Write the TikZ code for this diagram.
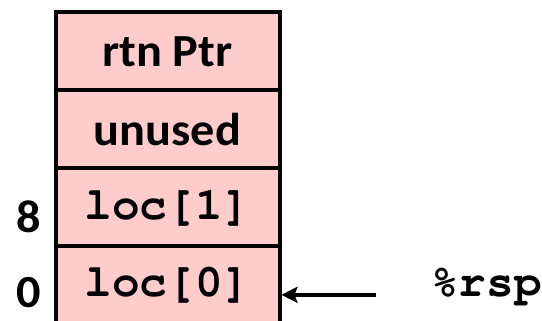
\documentclass[tikz,border=0pt]{standalone}
\usepackage[T1]{fontenc}
\usepackage{fontspec}
\newfontfamily\calfont[FakeStretch=1.05, Numbers=Lining]{Carlito}
\newcommand\courfont{\fontencoding{T1}\fontfamily{pcr}\selectfont}
\usetikzlibrary{arrows.meta, positioning}
\definecolor{stackpink}{HTML}{FFCCCC}
\tikzset{
  cell/.style={rectangle, draw, line width=4pt, fill=stackpink,
               minimum width=224pt, minimum height=77.8pt,
               outer sep=0pt, inner sep=0pt},
  sans/.style={font=\calfont\bfseries\fontsize{46}{50}\selectfont},
  mono/.style={font=\courfont\bfseries\fontsize{46}{50}\selectfont},
  offs/.style={sans, inner sep=0pt},
  arr/.style={-{Stealth[length=16pt, width=16pt, inset=3pt]}, line width=4pt},
}
\begin{document}
\begin{tikzpicture}[x=1pt, y=-1pt]
  \useasboundingbox (0,0) rectangle (542,321);
  % stack frame, top down
  \node[cell, sans, anchor=north] (c3) at (167.5,12.5) {rtn Ptr};
  \node[cell, sans, below=0pt of c3] (c2) {unused};
  \node[cell, mono, below=0pt of c2] (c1) {loc[1]};
  \node[cell, mono, below=0pt of c1] (c0) {loc[0]};

  % offsets
  \node[offs, left=14pt of c1, yshift=-10pt] (off8) {8};
  \node[offs, left=14pt of c0, yshift=-8pt] (off0) {0};

  % stack pointer
  \node[mono, inner sep=0pt, anchor=base west] (rsp) at (431,297) {\%rsp};
  \coordinate[left=55pt of rsp.mid west] (rsptail);
  \draw[arr, shorten >=2pt] (rsptail) -- (c0.east |- rsptail);
\end{tikzpicture}
\end{document}
